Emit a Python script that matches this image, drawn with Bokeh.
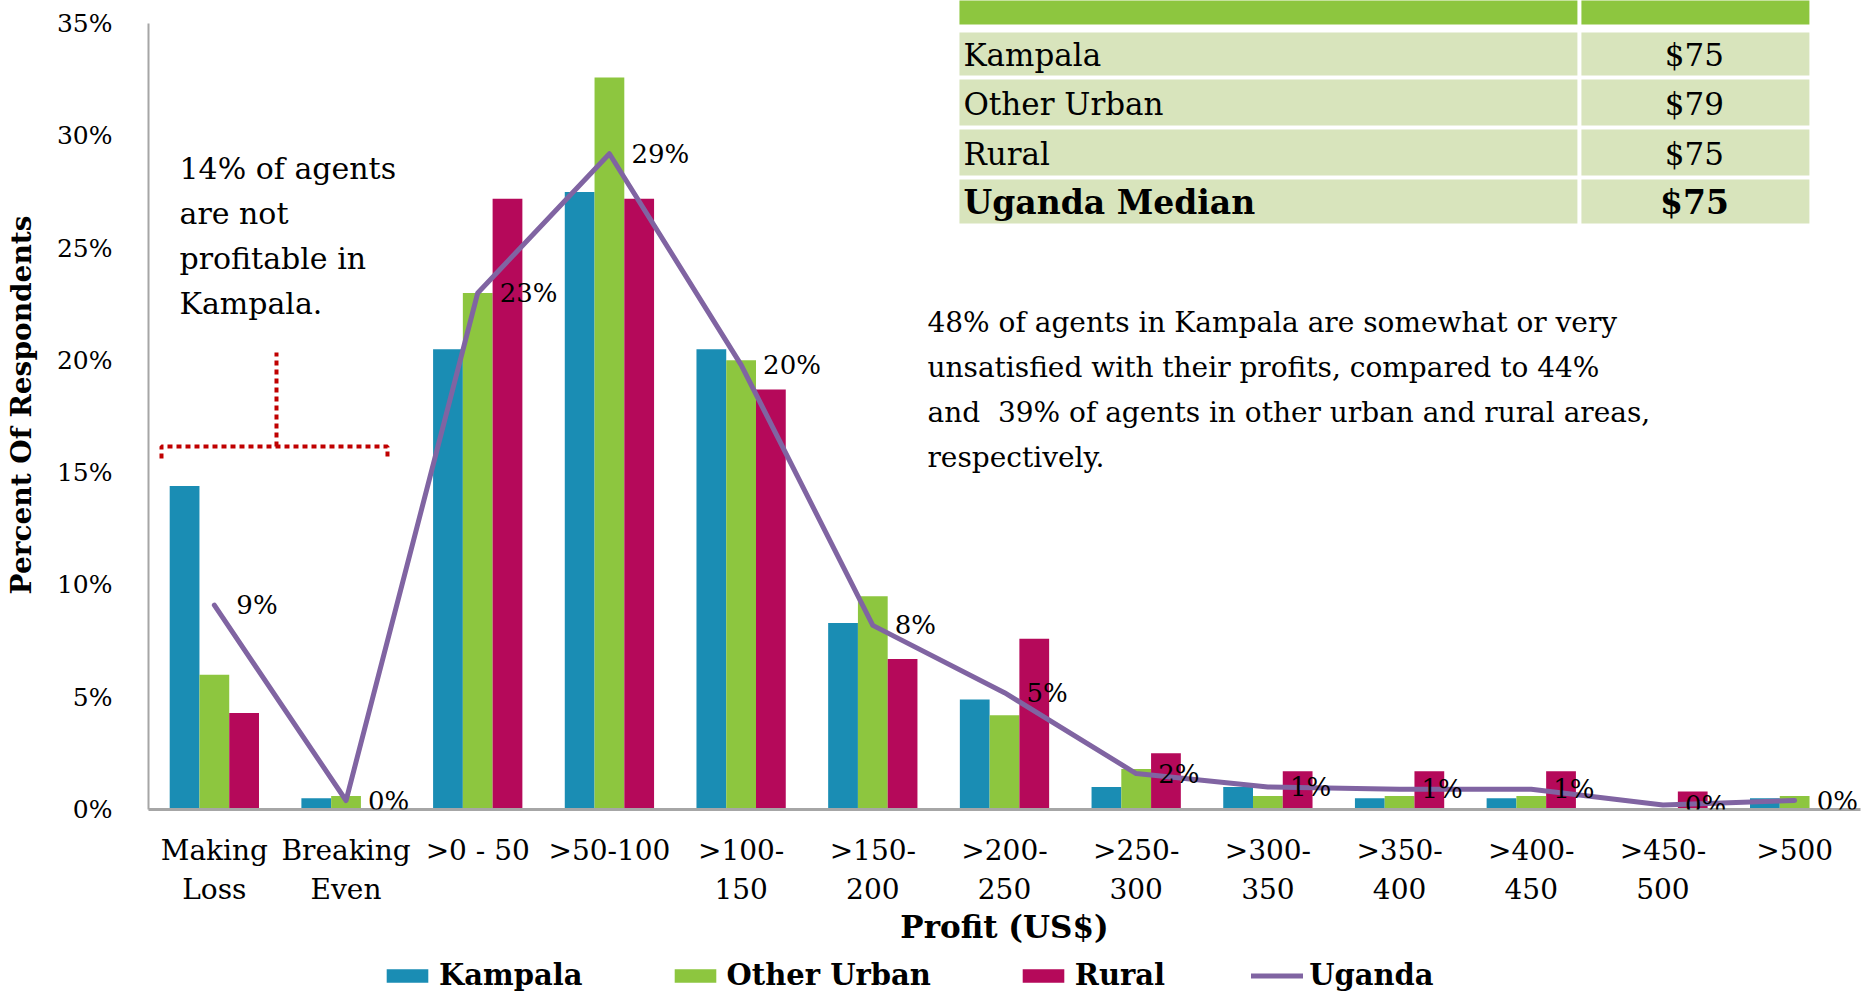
from bokeh.plotting import figure
from bokeh.layouts import column
from bokeh.models import (Range1d, FixedTicker, ColumnDataSource, LabelSet, Label,
                          Legend, LegendItem)
from bokeh.embed import file_html
from bokeh.resources import INLINE
from bokeh.core.properties import value

# ---------------- data ----------------
categories = ["Making\nLoss", "Breaking\nEven", ">0 - 50", ">50-100", ">100-\n150",
              ">150-\n200", ">200-\n250", ">250-\n300", ">300-\n350", ">350-\n400",
              ">400-\n450", ">450-\n500", ">500"]
kampala = [14.4, 0.5, 20.5, 27.5, 20.5, 8.3, 4.9, 1.0, 1.0, 0.5, 0.5, 0.0, 0.5]
other_urban = [6.0, 0.6, 23.0, 32.6, 20.0, 9.5, 4.2, 1.8, 0.6, 0.6, 0.6, 0.0, 0.6]
rural = [4.3, 0.0, 27.2, 27.2, 18.7, 6.7, 7.6, 2.5, 1.7, 1.7, 1.7, 0.8, 0.0]
uganda = [9.1, 0.4, 23.0, 29.2, 19.8, 8.2, 5.2, 1.6, 1.0, 0.9, 0.9, 0.2, 0.4]
y_ticks = [0, 5, 10, 15, 20, 25, 30, 35]
series_names = ["Kampala", "Other Urban", "Rural", "Uganda"]
table_regions = ["Kampala", "Other Urban", "Rural", "Uganda Median"]
table_medians = ["$75", "$79", "$75", "$75"]

# ---------------- style / layout ----------------
C_KAM = "#1a8db4"
C_OU = "#8dc63f"
C_RUR = "#b5095a"
C_UGA = "#8064a2"
C_AXIS = "#a6a6a6"
SERIF = "DejaVu Serif"

FL = 148.0      # page x of frame left
CAT = 131.7     # px per category
Y0 = 809.0      # page y of 0%
PP = 22.457     # px per percent
FRAME_W = 1712
FRAME_H = 809
Y_TOP = FRAME_H / PP
MAIN_BOTTOM = 150
LEG_H = 33


def dx(px):
    return (px - FL) / CAT - 0.5


def dy(py):
    return (Y0 - py) / PP


n = len(categories)
xs = list(range(n))
BW = 0.226

p = figure(frame_width=FRAME_W, frame_height=FRAME_H,
           x_range=Range1d(-0.5, n - 0.5), y_range=Range1d(0, Y_TOP),
           output_backend="svg", toolbar_location=None,
           min_border_left=148, min_border_right=4, min_border_top=0,
           min_border_bottom=MAIN_BOTTOM)
p.outline_line_color = None
p.xgrid.visible = False
p.ygrid.visible = False
p.background_fill_color = "white"
p.border_fill_color = "white"

src = ColumnDataSource(dict(
    x=xs,
    xk=[x - BW for x in xs], xo=xs, xr=[x + BW for x in xs],
    kampala=kampala, other_urban=other_urban, rural=rural, uganda=uganda,
    lab=[f"{round(v)}%" for v in uganda],
))

p.vbar(x="xk", top="kampala", width=BW, source=src, fill_color=C_KAM, line_color=None)
p.vbar(x="xo", top="other_urban", width=BW, source=src, fill_color=C_OU, line_color=None)
p.vbar(x="xr", top="rural", width=BW, source=src, fill_color=C_RUR, line_color=None)
p.line(x="x", y="uganda", source=src, line_color=C_UGA, line_width=5, line_join="round",
       line_cap="round")

labels = LabelSet(x="x", y="uganda", text="lab", source=src, x_offset=22, y_offset=0,
                  text_baseline="middle", text_align="left",
                  text_font=value(SERIF), text_font_size="26px", text_color="black")
p.add_layout(labels)

# ---------------- axes ----------------
xa = p.xaxis[0]
xa.ticker = FixedTicker(ticks=xs)
xa.major_label_overrides = {i: categories[i] for i in xs}
xa.major_label_text_font = SERIF
xa.major_label_text_font_size = "28px"
xa.major_label_text_line_height = 1.2
xa.major_label_standoff = 18
xa.major_tick_line_color = None
xa.minor_tick_line_color = None
xa.axis_line_color = C_AXIS
xa.axis_line_width = 3
xa.axis_label = "Profit (US$)"
xa.axis_label_text_font = SERIF
xa.axis_label_text_font_style = "bold"
xa.axis_label_text_font_size = "31px"
xa.axis_label_standoff = 0
xa.axis_label_text_color = "black"
xa.major_label_text_color = "black"

ya = p.yaxis[0]
ya.ticker = FixedTicker(ticks=y_ticks)
ya.major_label_overrides = {t: f"{t}%" for t in y_ticks}
ya.bounds = (0, 35)
ya.major_label_text_font = SERIF
ya.major_label_text_font_size = "25px"
ya.major_label_standoff = 30
ya.major_tick_line_color = None
ya.minor_tick_line_color = None
ya.axis_line_color = C_AXIS
ya.axis_line_width = 2
ya.axis_label = "Percent Of Respondents"
ya.axis_label_text_font = SERIF
ya.axis_label_text_font_style = "bold"
ya.axis_label_text_font_size = "28px"
ya.axis_label_standoff = 16
ya.axis_label_text_color = "black"
ya.major_label_text_color = "black"

# ---------------- median table ----------------
T_L, T_D, T_R = 959, 1579, 1809
p.quad(left=dx(T_L), right=dx(T_D - 2), top=dy(-10), bottom=dy(24), fill_color=C_OU, line_color=None)
p.quad(left=dx(T_D + 2), right=dx(T_R), top=dy(-10), bottom=dy(24), fill_color=C_OU, line_color=None)
row_tops = [32, 79, 129, 179]
row_bots = [75, 125, 175, 223]
for i, (reg, med) in enumerate(zip(table_regions, table_medians)):
    t, b = row_tops[i], row_bots[i]
    p.quad(left=dx(T_L), right=dx(T_D - 2), top=dy(t), bottom=dy(b), fill_color="#d8e4bc", line_color=None)
    p.quad(left=dx(T_D + 2), right=dx(T_R), top=dy(t), bottom=dy(b), fill_color="#d8e4bc", line_color=None)
    bold = "bold" if i == len(table_regions) - 1 else "normal"
    fs = "33px" if bold == "bold" else "31px"
    p.add_layout(Label(x=dx(T_L + 4), y=dy((t + b) / 2 + 1), text=reg, text_baseline="middle",
                       text_align="left", text_font=SERIF, text_font_size=fs,
                       text_font_style=bold, text_color="black"))
    p.add_layout(Label(x=dx((T_D + T_R) / 2), y=dy((t + b) / 2 + 1), text=med, text_baseline="middle",
                       text_align="center", text_font=SERIF, text_font_size=fs,
                       text_font_style=bold, text_color="black"))

# ---------------- annotations ----------------
p.add_layout(Label(x=dx(179), y=dy(150), text="14% of agents\nare not\nprofitable in\nKampala.",
                   text_baseline="top", text_align="left", text_font=SERIF,
                   text_font_size="30px", text_line_height=1.29, text_color="black"))
p.add_layout(Label(x=dx(927), y=dy(305),
                   text="48% of agents in Kampala are somewhat or very\n"
                        "unsatisfied with their profits, compared to 44%\n"
                        "and \u00a039% of agents in other urban and rural areas,\n"
                        "respectively.",
                   text_baseline="top", text_align="left", text_font=SERIF,
                   text_font_size="28px", text_line_height=1.37, text_color="black"))

# red dotted bracket
p.line(x=[dx(161), dx(161), dx(387), dx(387)], y=[dy(458), dy(446), dy(446), dy(458)],
       line_color="#c00000", line_width=4, line_dash="5 4")
p.line(x=[dx(276), dx(276)], y=[dy(446), dy(352)], line_color="#c00000", line_width=4,
       line_dash="5 4")

# ---------------- legend (separate strip under the chart) ----------------
leg = figure(width=1864, height=LEG_H, x_range=Range1d(0, 1), y_range=Range1d(0, 1),
             output_backend="svg", toolbar_location=None, min_border=0)
leg.axis.visible = False
leg.xgrid.visible = False
leg.ygrid.visible = False
leg.outline_line_color = None
# legend-key stand-ins, kept outside the visible range of this strip
dummy = ColumnDataSource(dict(x=[-10, -9], y=[0, 0]))
g1 = leg.vbar(x="x", top="y", width=0.1, source=dummy, fill_color=C_KAM, line_color=None)
g2 = leg.vbar(x="x", top="y", width=0.1, source=dummy, fill_color=C_OU, line_color=None)
g3 = leg.vbar(x="x", top="y", width=0.1, source=dummy, fill_color=C_RUR, line_color=None)
g4 = leg.line(x="x", y="y", source=dummy, line_color=C_UGA, line_width=5, line_cap="round")
legend = Legend(items=[LegendItem(label=nm, renderers=[r])
                       for nm, r in zip(series_names, [g1, g2, g3, g4])],
                orientation="horizontal", location=(233, 0),
                glyph_width=52, glyph_height=17, label_standoff=6, spacing=86,
                padding=0, margin=0, border_line_color=None, background_fill_alpha=0,
                label_text_font=SERIF, label_text_font_style="bold",
                label_text_font_size="29px", label_text_color="black")
leg.add_layout(legend)

layout = column(p, leg, spacing=0)
open("out.html", "w").write(file_html(layout, INLINE))
